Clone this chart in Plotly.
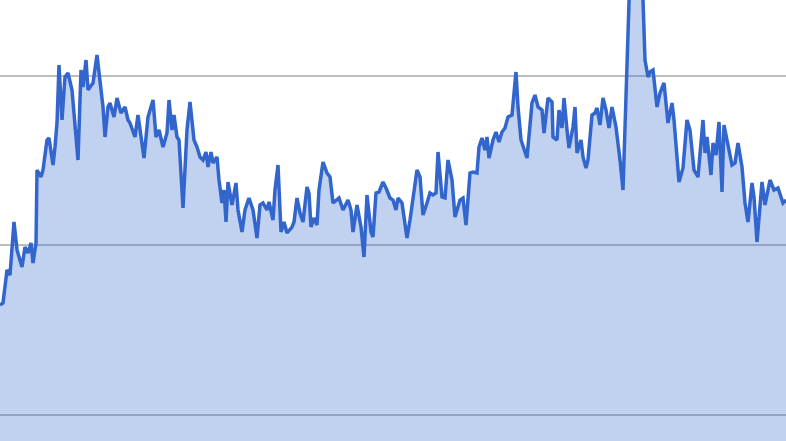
import plotly.graph_objects as go

# x positions (sample index along the series) and values
x_pos = [0, 3, 7, 10, 14, 17, 22, 25, 28, 31, 33, 36, 37, 41, 43, 47, 49, 53, 55, 57, 59, 62, 65, 68, 72, 75, 78, 81, 83, 86, 88, 90, 93, 97, 100, 103, 105, 108, 110, 114, 117, 121, 125, 128,
         130, 135, 138, 144, 148, 153, 156, 159, 163, 167, 169, 172, 174, 177, 179, 183, 187, 190, 194, 197, 200, 203, 206, 208, 211, 213, 217, 219, 222, 224, 226, 228, 232, 236, 238, 242, 245, 249, 253, 257,
         260, 263, 267, 269, 273, 275, 278, 281, 284, 287, 292, 294, 297, 300, 303, 307, 309, 311, 314, 317, 319, 323, 327, 330, 333, 336, 339, 343, 346, 348, 351, 353, 357, 361, 364, 367, 371, 373, 376, 379, 383, 386,
         390, 393, 396, 398, 402, 405, 407, 410, 413, 417, 420, 423, 427, 430, 433, 436, 438, 442, 445, 448, 452, 455, 460, 463, 466, 470, 473, 477, 479, 482, 485, 487, 489, 493, 496, 499, 502, 505, 508, 512, 516, 518,
         521, 524, 527, 532, 535, 538, 542, 544, 548, 552, 553, 557, 559, 562, 564, 567, 569, 573, 575, 577, 581, 583, 586, 588, 592, 595, 597, 600, 603, 606, 609, 612, 616, 620, 623, 631, 641, 645, 648,
         650, 653, 657, 660, 664, 668, 672, 674, 679, 683, 687, 690, 694, 698, 703, 705, 707, 711, 713, 716, 719, 722, 724, 728, 732, 735, 738, 742, 745, 748, 752, 754, 757, 762, 765, 770, 774, 778, 783, 786]

values = [279, 281, 314, 309, 362, 334, 317, 337, 331, 341, 321, 341, 414, 407, 414, 444, 446, 419, 437, 461, 519, 464, 507, 511, 494, 454, 424, 514, 497, 524, 494, 497, 501, 529, 504, 477, 447, 477, 481, 467, 486, 471, 477, 464,
          461, 447, 469, 426, 467, 484, 447, 454, 437, 451, 484, 454, 469, 447, 444, 376, 454, 482, 444, 437, 427, 424, 432, 417, 432, 421, 427, 404, 381, 394, 362, 402, 379, 401, 374, 352, 374, 386, 374, 346,
          379, 381, 374, 382, 364, 394, 419, 352, 362, 351, 357, 362, 386, 371, 362, 397, 391, 357, 366, 359, 394, 422, 411, 407, 381, 384, 386, 374, 381, 384, 374, 352, 379, 357, 327, 389, 352, 347, 391, 392, 402, 396,
          386, 384, 374, 386, 381, 362, 346, 364, 384, 414, 407, 369, 381, 391, 389, 391, 432, 387, 386, 424, 404, 367, 384, 386, 359, 411, 412, 411, 437, 446, 434, 447, 426, 444, 452, 442, 452, 456, 467, 469, 512, 477,
          444, 436, 426, 481, 489, 477, 474, 451, 486, 482, 447, 444, 474, 456, 486, 454, 436, 457, 477, 431, 444, 427, 416, 424, 469, 471, 476, 459, 486, 474, 456, 477, 457, 424, 394, 644, 644, 524, 507,
          512, 514, 477, 491, 501, 461, 481, 464, 402, 416, 464, 454, 414, 407, 464, 431, 447, 409, 441, 429, 462, 392, 459, 437, 419, 421, 441, 417, 381, 362, 401, 387, 342, 402, 379, 404, 394, 396, 381, 384]

fig = go.Figure()
fig.add_trace(go.Scatter(
    x=x_pos, y=values, mode="lines", fill="tozeroy",
    line=dict(color="#3366cc", width=3.5),
    fillcolor="rgba(51,102,204,0.3)",
    hoverinfo="skip",
))

fig.update_layout(
    width=786, height=441,
    margin=dict(l=0, r=0, t=0, b=0),
    paper_bgcolor="white", plot_bgcolor="white",
    showlegend=False,
    xaxis=dict(range=[0, 786], showgrid=False, zeroline=False, showticklabels=False, ticks="", showline=False),
    yaxis=dict(range=[143, 584], tick0=0, dtick=169.5, showgrid=True, gridcolor="#bdbdbd", gridwidth=1.5,
               zeroline=False, showticklabels=False, ticks="", showline=False),
)

fig.write_html("out.html", config={"displayModeBar": False},
               post_script="document.body.style.margin='0';document.body.style.overflow='hidden';")
